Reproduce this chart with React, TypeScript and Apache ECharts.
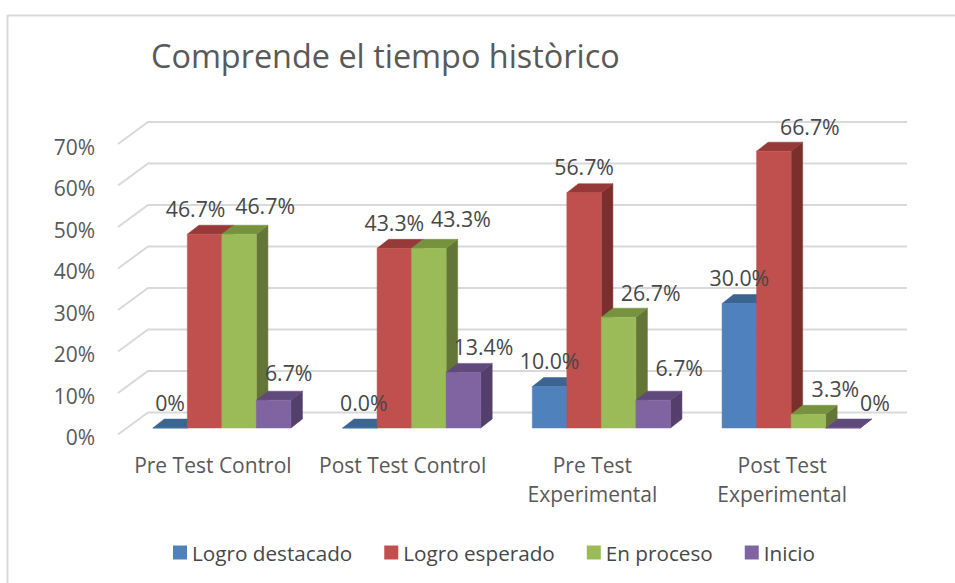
import React, { useEffect, useRef } from "react";
import * as echarts from "echarts";

const categories = ["Pre Test Control", "Post Test Control", "Pre Test\nExperimental", "Post Test\nExperimental"];
const seriesNames = ["Logro destacado", "Logro esperado", "En proceso", "Inicio"];
const logroDestacado = [0, 0, 10, 30];
const logroEsperado = [46.7, 43.3, 56.7, 66.7];
const enProceso = [46.7, 43.3, 26.7, 3.3];
const inicio = [6.7, 13.4, 6.7, 0];
const seriesValues = [logroDestacado, logroEsperado, enProceso, inicio];
const labelTexts = [
  ["0%", "0.0%", "10.0%", "30.0%"],
  ["46.7%", "43.3%", "56.7%", "66.7%"],
  ["46.7%", "43.3%", "26.7%", "3.3%"],
  ["6.7%", "13.4%", "6.7%", "0%"],
];
const yTicks = [0, 10, 20, 30, 40, 50, 60, 70];

// Styling and layout, kept apart from the data
const faces = [
  { front: "#4F81BD", top: "#3B6491", side: "#2F4F74" },
  { front: "#C0504D", top: "#953A38", side: "#7A2F2D" },
  { front: "#9BBB59", top: "#77923F", side: "#637637" },
  { front: "#8064A2", top: "#604A7B", side: "#533F6C" },
];
const labelDx = [
  [0, 4, 0, 0],
  [-9, 0, 0, 36],
  [26, 32, 32, 27],
  [15, 20, 26, 32],
];
const labelDy = [
  [-26, -26, -26, -26],
  [-26, -26, -26, -25],
  [-29, -30, -25, -26],
  [-28, -26, -33, -26],
];
const FONT = "'Open Sans'";
const GRID = { left: 118, top: 144, width: 759, height: 290.5 };
const WALL = { dx: 30, dy: 22 };
const BAR_PLANE = { dx: 9, dy: 6.5 };
const BAR_DEPTH = { dx: 11.5, dy: 9 };
const BAR_SHARE = 0.182;

const poly = (points: number[][], fill: string) => ({
  type: "polygon",
  shape: { points },
  style: { fill, stroke: fill, lineWidth: 0.5 },
});

const makeBarSeries = (s: number) => ({
  type: "custom",
  name: seriesNames[s],
  itemStyle: { color: faces[s].front },
  data: seriesValues[s].map((v, i) => [i, v]),
  encode: { x: 0, y: 1 },
  silent: true,
  renderItem: (_: any, api: any) => {
    const cat = api.value(0);
    const val = api.value(1);
    const [cx, yv] = api.coord([cat, val]);
    const [, y0] = api.coord([cat, 0]);
    const w = api.size([1, 0])[0] * BAR_SHARE;
    const l = cx + BAR_PLANE.dx + (s - 2) * w;
    const r = l + w;
    const top = yv - BAR_PLANE.dy;
    const bottom = y0 - BAR_PLANE.dy;
    const d = BAR_DEPTH;
    const f = faces[s];
    return {
      type: "group",
      children: [
        poly([[r, top], [r + d.dx, top - d.dy], [r + d.dx, bottom - d.dy], [r, bottom]], f.side),
        poly([[l, top], [l + d.dx, top - d.dy], [r + d.dx, top - d.dy], [r, top]], f.top),
        poly([[l, top], [r, top], [r, bottom], [l, bottom]], f.front),
      ],
    };
  },
});

const makeLabelSeries = () => ({
  type: "custom",
  name: "labels",
  z: 20,
  silent: true,
  data: seriesValues.flatMap((vals, s) => vals.map((v, i) => [i, v, s])),
  encode: { x: 0, y: 1 },
  renderItem: (_: any, api: any) => {
    const cat = api.value(0);
    const val = api.value(1);
    const s = api.value(2);
    const [cx, yv] = api.coord([cat, val]);
    const w = api.size([1, 0])[0] * BAR_SHARE;
    const x = cx + BAR_PLANE.dx + (s - 2) * w + w / 2 + labelDx[s][cat];
    const y = yv - BAR_PLANE.dy + labelDy[s][cat];
    return {
      type: "text",
      style: {
        text: labelTexts[s][cat],
        x,
        y,
        align: "center",
        verticalAlign: "middle",
        font: `21.3px ${FONT}`,
        fill: "#474747",
      },
    };
  },
});

const makeWallSeries = () => ({
  type: "custom",
  name: "wall",
  z: 1,
  silent: true,
  data: yTicks.map((t) => [0, t]),
  encode: { x: 0, y: 1 },
  renderItem: (params: any, api: any) => {
    const [, y] = api.coord([0, api.value(1)]);
    const { x: gx, width } = params.coordSys;
    return {
      type: "polyline",
      shape: {
        points: [[gx, y], [gx + WALL.dx, y - WALL.dy], [gx + WALL.dx + width, y - WALL.dy]],
      },
      style: { stroke: "#D9D9D9", lineWidth: 2, fill: "none" },
    };
  },
});

export default function App() {
  const ref = useRef<HTMLDivElement>(null);
  useEffect(() => {
    const chart = echarts.init(ref.current!, undefined, { renderer: "svg" });
    chart.setOption({
      animation: false,
      backgroundColor: "#FFFFFF",
      title: {
        text: "Comprende el tiempo històrico",
        left: 151,
        top: 39,
        padding: 0,
        textStyle: { fontFamily: FONT, fontSize: 32.4, fontWeight: "normal", color: "#595959" },
      },
      legend: {
        left: 173,
        top: 542,
        padding: 0,
        itemWidth: 14,
        itemHeight: 14,
        itemGap: 32,
        icon: "rect",
        data: seriesNames,
        textStyle: { fontFamily: FONT, fontSize: 20.7, color: "#474747" },
      },
      grid: GRID,
      xAxis: {
        type: "category",
        data: categories,
        axisLine: { show: false },
        axisTick: { show: false },
        axisLabel: {
          interval: 0,
          margin: 16,
          fontFamily: FONT,
          fontSize: 21,
          lineHeight: 29,
          color: "#595959",
        },
      },
      yAxis: {
        type: "value",
        min: 0,
        max: 70,
        interval: 10,
        splitLine: { show: false },
        axisLine: { show: false },
        axisTick: { show: false },
        axisLabel: {
          margin: 23,
          formatter: "{value}%",
          fontFamily: FONT,
          fontSize: 21,
          color: "#595959",
          verticalAlign: "top",
          lineHeight: 5,
        },
      },
      graphic: [
        { type: "line", shape: { x1: 7.5, y1: 15.5, x2: 955, y2: 15.5 }, style: { stroke: "#D9D9D9", lineWidth: 2 } },
        { type: "line", shape: { x1: 7.5, y1: 15, x2: 7.5, y2: 583 }, style: { stroke: "#D9D9D9", lineWidth: 2 } },
      ],
      series: [makeWallSeries(), ...seriesNames.map((_, s) => makeBarSeries(s)), makeLabelSeries()],
    });
    return () => chart.dispose();
  }, []);
  return <div ref={ref} style={{ position: "absolute", left: 0, top: 0, width: 955, height: 583 }} />;
}
